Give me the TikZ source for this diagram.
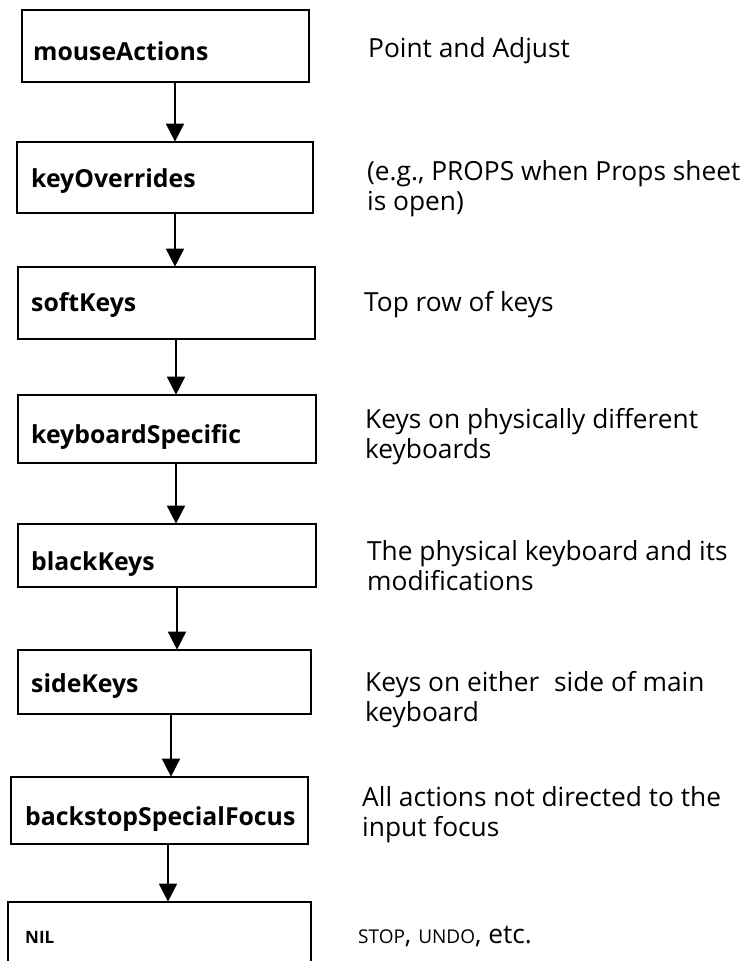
\documentclass[tikz,border=0pt]{standalone}
\usepackage{fontspec}
\setmainfont{Open Sans}
\usetikzlibrary{arrows.meta}

\begin{document}
\begin{tikzpicture}[x=1pt, y=-1pt,
  box/.style={draw, line width=1.7pt, inner sep=0pt},
  lbl/.style={anchor=base west, inner sep=0pt, font=\fontsize{24.8}{30}\selectfont\bfseries},
  desc/.style={anchor=base west, inner sep=0pt, align=left, font=\fontsize{26.3}{30}\selectfont},
  flow/.style={line width=1.7pt, -{Triangle[width=18pt,length=18pt]}, shorten >=-0.5pt}
]
\useasboundingbox (0,0) rectangle (746,961);
\clip (0,0) rectangle (746,961);

% handler boxes, top to bottom
\node[box, minimum width=287pt, minimum height=72pt] (b1) at (165.5,46) {};
\node[box, minimum width=296pt, minimum height=71pt] (b2) at (165,177.5) {};
\node[box, minimum width=297pt, minimum height=72pt] (b3) at (166.5,303) {};
\node[box, minimum width=298pt, minimum height=68pt] (b4) at (167,429) {};
\node[box, minimum width=298pt, minimum height=63pt] (b5) at (167,555.5) {};
\node[box, minimum width=293pt, minimum height=64pt] (b6) at (164.5,682) {};
\node[box, minimum width=297pt, minimum height=67pt] (b7) at (159.5,810.5) {};
\node[box, minimum width=303pt, minimum height=98pt] (b8) at (159.5,951) {};

% handler names
\node[lbl] (l1) at (33,60) {mouseActions};
\node[lbl] (l2) at (31,187) {keyOverrides};
\node[lbl] (l3) at (31,311) {softKeys};
\node[lbl] (l4) at (31,443) {keyboardSpecific};
\node[lbl] (l5) at (31,570) {blackKeys};
\node[lbl] (l6) at (31,692) {sideKeys};
\node[lbl] (l7) at (25,825) {backstopSpecialFocus};
\node[lbl, font=\fontsize{17}{20}\selectfont\bfseries] (l8) at (25,943) {NIL};

% descriptions (anchored at the baseline of the last line)
\node[desc] (d1) at (368,57) {Point and Adjust};
\node[desc] (d2) at (367,210) {(e.g., PROPS when Props sheet\\is open)};
\node[desc] (d3) at (364,311) {Top row of keys};
\node[desc] (d4) at (365,458) {Keys on physically different\\keyboards};
\node[desc] (d5) at (367,590) {The physical keyboard and its\\modifications};
\node[desc] (d6) at (365,721) {Keys on either\hspace{0.3em} side of main\\keyboard};
\node[desc] (d7) at (362,836) {All actions not directed to the\\input focus};
\node[desc] (d8) at (358,943) {{\fontsize{19}{24}\selectfont STOP}, {\fontsize{19}{24}\selectfont UNDO}, etc.};

% arrow columns
\coordinate (a1) at (175,0);
\coordinate (a2) at (175,0);
\coordinate (a3) at (176,0);
\coordinate (a4) at (176,0);
\coordinate (a5) at (177,0);
\coordinate (a6) at (171,0);
\coordinate (a7) at (168,0);

\draw[flow] (b1.south -| a1) -- (b2.north -| a1);
\draw[flow] (b2.south -| a2) -- (b3.north -| a2);
\draw[flow] (b3.south -| a3) -- (b4.north -| a3);
\draw[flow] (b4.south -| a4) -- (b5.north -| a4);
\draw[flow] (b5.south -| a5) -- (b6.north -| a5);
\draw[flow] (b6.south -| a6) -- (b7.north -| a6);
\draw[flow] (b7.south -| a7) -- (b8.north -| a7);
\end{tikzpicture}
\end{document}
